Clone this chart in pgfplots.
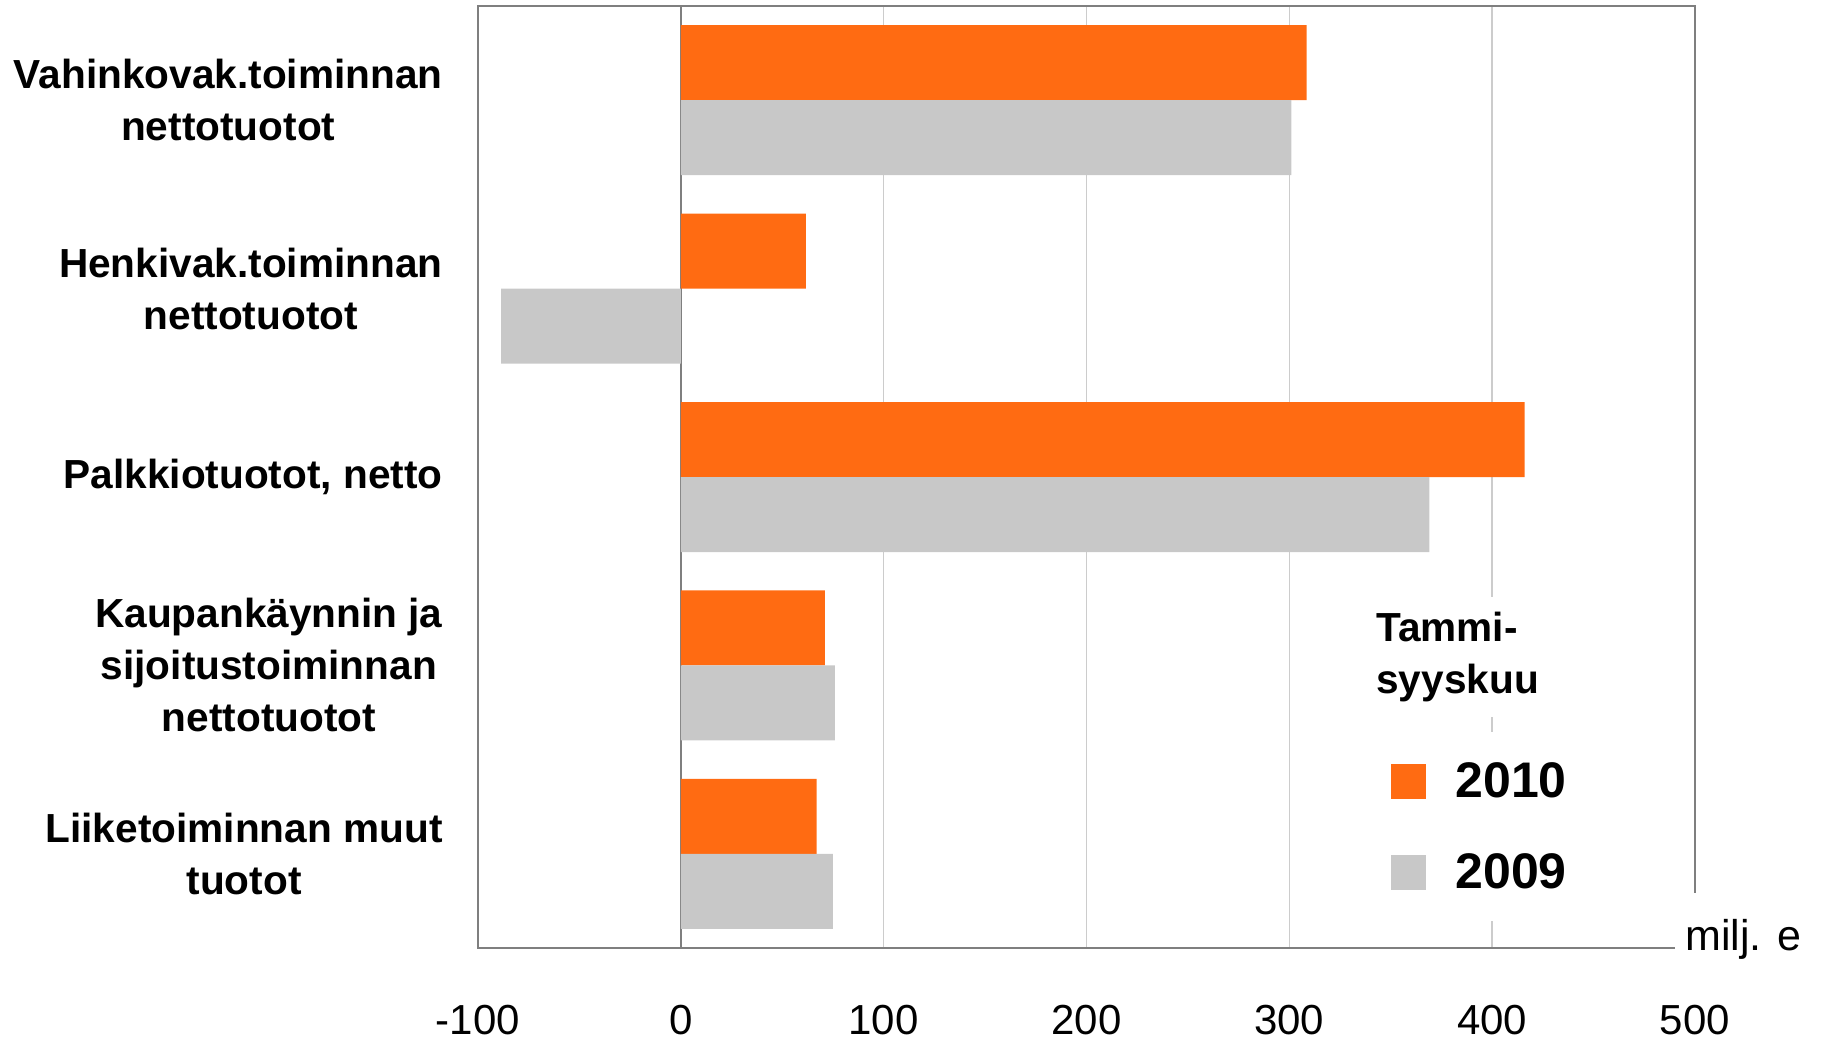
\documentclass[border=0pt]{standalone}
\usepackage{fontspec}
\setmainfont{Liberation Sans}
\usepackage{pgfplots}
\pgfplotsset{compat=1.18}
\definecolor{cOrange}{HTML}{FF6B12}
\definecolor{cGray}{HTML}{C8C8C8}
\definecolor{cGrid}{HTML}{CCCCCC}
\definecolor{cBorder}{HTML}{7F7F7F}
\pgfplotsset{sqlegend/.style={legend image code/.code={\fill[##1] (0pt,-8.9pt) rectangle (17.5pt,8.6pt);}}}
\begin{document}
\begin{tikzpicture}
\useasboundingbox (0,0) rectangle (913.5pt,522.5pt);
\begin{axis}[
  at={(239pt,48.5pt)}, anchor=south west,
  scale only axis, width=608.5pt, height=471pt,
  clip=false,
  xmin=-100, xmax=500, ymin=0.5, ymax=5.5,
  xtick={-100,0,100,200,300,400,500},
  xticklabels={-100,0,100,200,300,400,500},
  ytick={1,2,3,4,5},
  yticklabels={{Liiketoiminnan muut\\tuotot},{Kaupankäynnin ja\\sijoitustoiminnan\\nettotuotot},{Palkkiotuotot, netto},{Henkivak.toiminnan\\nettotuotot},{Vahinkovak.toiminnan\\nettotuotot}},
  major tick length=0pt,
  xmajorgrids, grid style={cGrid, line width=0.75pt},
  extra x ticks={0}, extra x tick labels={},
  extra x tick style={grid style={cBorder, line width=0.75pt}},
  axis line style={cBorder, line width=1pt},
  xticklabel style={font=\fontsize{21}{25}\selectfont, inner sep=0pt, anchor=north, yshift=-28.5pt},
  yticklabel style={font=\bfseries\fontsize{20.3}{26}\selectfont, align=center, inner sep=0pt, anchor=east, xshift=-17.5pt},
  legend style={at={(0.7256,0.2293)}, anchor=north west, draw=none, fill=white,
    inner sep=15pt, font=\bfseries\fontsize{25}{29}\selectfont, row sep=26.6pt,
    nodes={inner sep=0pt},
    /tikz/every odd column/.append style={column sep=14.5pt}},
  legend cell align=left,
]
\addplot[xbar, bar width=37.5pt, bar shift=18.75pt, fill=cOrange, draw=none, sqlegend]
  coordinates {(308.5,5) (61.7,4) (416,3) (71,2) (67,1)};
\addlegendentry{2010}
\addplot[xbar, bar width=37.5pt, bar shift=-18.75pt, fill=cGray, draw=none, sqlegend]
  coordinates {(301,5) (-88.6,4) (369,3) (76,2) (75,1)};
\addlegendentry{2009}
\end{axis}
\node[anchor=north west, align=left, fill=white, inner sep=7.5pt,
  font=\bfseries\fontsize{20.3}{26}\selectfont] at (680.5pt,224pt) {Tammi-\\syyskuu};
\node[anchor=base west, fill=white, inner sep=5pt, text height=23.5pt,
  font=\fontsize{21.5}{25}\selectfont] at (837.5pt,47.5pt) {milj. e};
\end{tikzpicture}
\end{document}
